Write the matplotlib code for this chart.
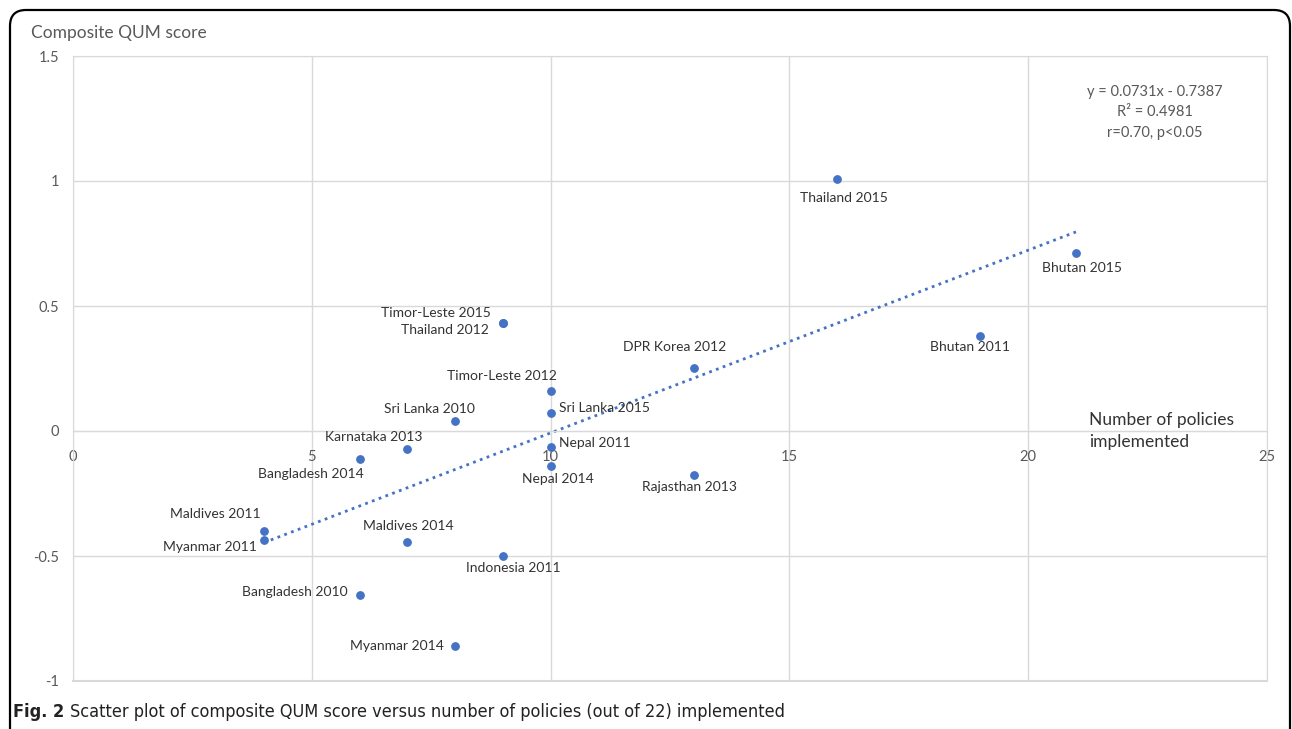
import matplotlib
matplotlib.use('Agg')
import matplotlib.pyplot as plt
import matplotlib.patches as mpatches
import numpy as np

# data
names = ['Thailand 2015', 'Bhutan 2015', 'Bhutan 2011', 'DPR Korea 2012',
         'Timor-Leste 2015', 'Thailand 2012', 'Timor-Leste 2012', 'Sri Lanka 2015',
         'Sri Lanka 2010', 'Karnataka 2013', 'Bangladesh 2014', 'Nepal 2011',
         'Nepal 2014', 'Rajasthan 2013', 'Maldives 2011', 'Myanmar 2011',
         'Maldives 2014', 'Indonesia 2011', 'Bangladesh 2010', 'Myanmar 2014']
policies = [16, 21, 19, 13, 9, 9, 10, 10, 8, 7, 6, 10, 10, 13, 4, 4, 7, 9, 6, 8]
scores = [1.01, 0.713, 0.38, 0.252, 0.432, 0.432, 0.16, 0.074, 0.04, -0.072,
          -0.112, -0.064, -0.14, -0.176, -0.40, -0.436, -0.444, -0.50, -0.656, -0.86]

slope = 0.0731
intercept = -0.7387
eq_lines = ['y = 0.0731x - 0.7387', 'R\u00b2 = 0.4981', 'r=0.70, p<0.05']

# label placement (pixel offsets, alignment)
label_pos = {
    'Thailand 2015': (7, -20, 'center'),
    'Bhutan 2015': (6, -15, 'center'),
    'Bhutan 2011': (-10, -11, 'center'),
    'DPR Korea 2012': (-19, 21, 'center'),
    'Timor-Leste 2015': (-12, 10, 'right'),
    'Thailand 2012': (-14, -7, 'right'),
    'Timor-Leste 2012': (-49, 15, 'center'),
    'Sri Lanka 2015': (8, 4, 'left'),
    'Sri Lanka 2010': (-26, 12, 'center'),
    'Karnataka 2013': (-34, 12, 'center'),
    'Bangladesh 2014': (-49, -15, 'center'),
    'Nepal 2011': (8, 4, 'left'),
    'Nepal 2014': (7, -13, 'center'),
    'Rajasthan 2013': (-4, -12, 'center'),
    'Maldives 2011': (-49, 17, 'center'),
    'Myanmar 2011': (-7, -7, 'right'),
    'Maldives 2014': (1, 16, 'center'),
    'Indonesia 2011': (10, -12, 'center'),
    'Bangladesh 2010': (-12, 3, 'right'),
    'Myanmar 2014': (-11, 0, 'right'),
}

plt.rcParams['font.family'] = ['Lato', 'DejaVu Sans']

W, H = 1292, 729
fig = plt.figure(figsize=(W / 100, H / 100), dpi=100)
ax = fig.add_axes([73 / W, 1 - 681 / H, (1267 - 73) / W, (681 - 56) / H])

blue = '#4472C4'
grid = '#d9d9d9'
tick_col = '#595959'

ax.set_xlim(0, 25)
ax.set_ylim(-1, 1.5)
ax.set_xticks(np.arange(0, 26, 5))
ax.set_yticks(np.arange(-1, 1.6, 0.5))
ax.set_yticklabels(['-1', '-0.5', '0', '0.5', '1', '1.5'])
ax.grid(True, color=grid, linewidth=1)
ax.set_axisbelow(True)
for s in ['top', 'right', 'left']:
    ax.spines[s].set_color(grid)
ax.spines['bottom'].set_position(('data', 0))
ax.spines['bottom'].set_color(grid)
ax.tick_params(length=0, labelsize=10.5, labelcolor=tick_col)
ax.tick_params(axis='y', pad=10)
ax.tick_params(axis='x', pad=14)
# frame line at the bottom
ax.axhline(-1, color=grid, linewidth=1.5, clip_on=False)

# trend line
xt = np.array([min(policies), max(policies)])
ax.plot(xt, slope * xt + intercept, color=blue, linewidth=2,
        linestyle=(0, (1, 1.6)), zorder=2)

ax.scatter(policies, scores, s=28, color=blue, zorder=3)

for n, x, y in zip(names, policies, scores):
    dx, dy, ha = label_pos[n]
    ax.annotate(n, (x, y), xytext=(dx, dy), textcoords='offset pixels',
                ha=ha, va='center', fontsize=10, color='#333333')

for i, line in enumerate(eq_lines):
    fig.text(1155 / W, 1 - (92 + 20.5 * i) / H, line, ha='center', va='center',
             fontsize=10.5, color=tick_col)

fig.text(31 / W, 1 - 33 / H, 'Composite QUM score', ha='left', va='center',
         fontsize=12.5, color=tick_col)
fig.text(1089 / W, 1 - 431 / H, 'Number of policies\nimplemented', ha='left',
         va='center', fontsize=12.5, color='#333333', linespacing=1.4)

# outer rounded frame
frame = mpatches.FancyBboxPatch((10, -20), 1280, 729 - 10 + 20,
                                boxstyle='round,pad=0,rounding_size=16',
                                transform=None, fill=False, edgecolor='black',
                                linewidth=1.6)
fig.patches.append(frame)

# caption
cap_font = ['DejaVu Sans']
t1 = fig.text(13 / W, 1 - 712 / H, 'Fig. 2', ha='left', va='center',
              fontsize=13, fontweight='bold', family=cap_font,
              fontstretch='condensed', color='#222222')
r = fig.canvas.get_renderer()
bb = t1.get_window_extent(renderer=r)
fig.text((bb.x1 + 6) / W, 1 - 712 / H,
         'Scatter plot of composite QUM score versus number of policies (out of 22) implemented',
         ha='left', va='center', fontsize=13, family=cap_font,
         fontstretch='condensed', color='#222222')

fig.savefig('out.png', dpi=100)
